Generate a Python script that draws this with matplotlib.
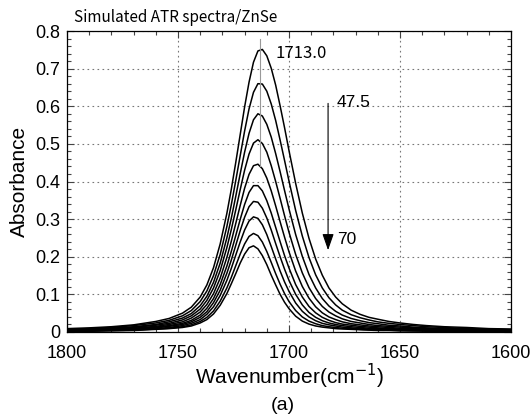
import numpy as np
import matplotlib
matplotlib.use('Agg')
import matplotlib.pyplot as plt
from matplotlib.ticker import MultipleLocator, FuncFormatter

# Wavenumber sample positions (cm-1)
wavenumber = [1800, 1790, 1780, 1770, 1760, 1754, 1748, 1744, 1740, 1737, 1734, 1731, 1728,
              1726, 1724, 1722, 1720, 1718, 1716, 1714, 1712, 1710, 1708, 1706, 1704, 1702,
              1700, 1697, 1694, 1691, 1688, 1685, 1682, 1679, 1676, 1672, 1668, 1664, 1660,
              1655, 1650, 1644, 1638, 1630, 1620, 1610, 1600]

# Incidence angles (deg)
angles = [47.5, 50.0, 52.5, 55.0, 57.5, 60.0, 62.5, 65.0, 67.5, 70.0]

# Absorbance x 1000, one list per angle
abs_475 = [9, 11, 14, 19, 28, 36, 50, 66, 93, 125, 171, 234, 315, 379, 450, 524, 598, 664, 717, 747, 751, 734, 701, 656, 601, 543, 482, 395, 316, 249, 194, 151, 117, 93, 75, 58, 47, 39, 34, 28, 24, 20, 17, 14, 12, 9, 8]
abs_500 = [7, 9, 12, 17, 24, 31, 43, 57, 81, 109, 150, 206, 280, 338, 402, 468, 534, 593, 637, 660, 659, 640, 606, 562, 510, 456, 401, 323, 255, 198, 152, 117, 91, 72, 58, 46, 38, 32, 27, 23, 20, 17, 14, 12, 9, 8, 6]
abs_525 = [6, 8, 10, 14, 20, 27, 37, 49, 70, 95, 132, 183, 250, 302, 360, 420, 478, 528, 564, 580, 574, 552, 518, 474, 426, 376, 327, 259, 201, 153, 117, 89, 69, 55, 45, 36, 30, 25, 22, 18, 16, 13, 11, 9, 8, 6, 5]
abs_550 = [5, 7, 9, 12, 18, 23, 32, 43, 61, 84, 117, 163, 224, 272, 324, 378, 430, 473, 502, 511, 501, 478, 442, 400, 355, 309, 265, 206, 157, 118, 89, 68, 53, 43, 35, 28, 24, 20, 17, 15, 13, 11, 9, 8, 6, 5, 4]
abs_575 = [4, 6, 8, 10, 15, 20, 27, 37, 53, 73, 102, 143, 198, 241, 288, 336, 382, 419, 442, 446, 434, 409, 375, 335, 293, 252, 213, 162, 121, 90, 67, 51, 40, 33, 27, 22, 19, 16, 14, 12, 10, 9, 7, 6, 5, 4, 3]
abs_600 = [4, 5, 6, 9, 13, 17, 23, 31, 45, 63, 89, 126, 175, 214, 256, 299, 339, 371, 389, 389, 375, 349, 316, 278, 240, 203, 170, 126, 93, 68, 51, 39, 31, 25, 21, 18, 15, 13, 11, 9, 8, 7, 6, 5, 4, 3, 3]
abs_625 = [3, 4, 5, 8, 11, 15, 20, 27, 39, 54, 78, 111, 156, 191, 230, 269, 305, 333, 347, 345, 329, 303, 271, 235, 200, 167, 137, 100, 72, 52, 39, 30, 24, 20, 17, 14, 12, 10, 9, 8, 6, 5, 5, 4, 3, 3, 2]
abs_650 = [3, 3, 5, 6, 9, 12, 17, 23, 33, 47, 67, 97, 137, 169, 204, 239, 271, 295, 306, 302, 285, 259, 227, 194, 162, 133, 108, 77, 55, 40, 30, 23, 19, 16, 13, 11, 9, 8, 7, 6, 5, 4, 4, 3, 2, 2, 2]
abs_675 = [2, 3, 4, 5, 8, 10, 14, 19, 28, 39, 56, 82, 117, 145, 176, 207, 234, 254, 262, 256, 239, 214, 185, 155, 127, 102, 81, 57, 40, 29, 22, 17, 14, 12, 10, 9, 7, 6, 5, 5, 4, 3, 3, 2, 2, 2, 1]
abs_700 = [2, 2, 3, 4, 7, 9, 12, 16, 24, 33, 48, 71, 102, 128, 155, 183, 207, 224, 229, 221, 203, 179, 151, 125, 100, 79, 62, 42, 29, 21, 16, 13, 11, 9, 8, 7, 6, 5, 4, 4, 3, 3, 2, 2, 1, 1, 1]

series = [abs_475, abs_500, abs_525, abs_550, abs_575, abs_600, abs_625, abs_650, abs_675, abs_700]

plt.rcParams['font.family'] = ['Liberation Sans', 'DejaVu Sans']
fig = plt.figure(figsize=(5.3, 4.18), dpi=100)
ax = fig.add_axes([67/530, 1-332/418, 444/530, 301/418])
for s in series:
    ax.plot(wavenumber, np.array(s) / 1000.0, color='black', lw=1.1)
ax.set_xlim(1800, 1600)
ax.set_ylim(0, 0.8)
ax.xaxis.set_major_locator(MultipleLocator(50))
ax.xaxis.set_minor_locator(MultipleLocator(10))
ax.yaxis.set_major_locator(MultipleLocator(0.1))
ax.yaxis.set_minor_locator(MultipleLocator(0.02))
ax.yaxis.set_major_formatter(FuncFormatter(lambda v, p: '0' if abs(v) < 1e-9 else f'{v:.1f}'))
ax.tick_params(which='both', direction='in', top=True, right=True, labelsize=13, width=0.8, color='#444')
ax.tick_params(which='major', length=5)
ax.tick_params(which='minor', length=3)
ax.tick_params(axis='x', pad=9)
ax.tick_params(axis='y', pad=5)
ax.grid(True, which='major', linestyle=(0, (1.5, 3)), color='#777', lw=0.8)
for sp in ax.spines.values():
    sp.set_linewidth(0.9)
ax.set_xlabel('Wavenumber(cm$^{-1}$)', fontsize=15, labelpad=0)
ax.set_ylabel('Absorbance', fontsize=15, labelpad=4)
ax.plot([1713, 1713], [0.78, 0.44], color='#999', lw=0.8)
ax.text(1706, 0.74, '1713.0', fontsize=12, family=['Noto Sans CJK JP', 'DejaVu Sans'],
        va='center', ha='left')
ax.annotate('', xy=(1682.4, 0.21), xytext=(1682.4, 0.615),
            arrowprops=dict(arrowstyle='-|>,head_length=1.0,head_width=0.35', color='black', lw=0.8))
ax.text(1678.5, 0.61, '47.5', fontsize=12.5, va='center', ha='left')
ax.text(1678.5, 0.245, '70', fontsize=12.5, va='center', ha='left')
fig.text(74/530, 1-17/418, 'Simulated ATR spectra/ZnSe', fontsize=11,
         family=['Noto Sans CJK JP', 'DejaVu Sans'], va='center', ha='left')
fig.text(283/530, 1-405/418, '(a)', fontsize=14, va='center', ha='center')
fig.savefig('out.png', dpi=100)
